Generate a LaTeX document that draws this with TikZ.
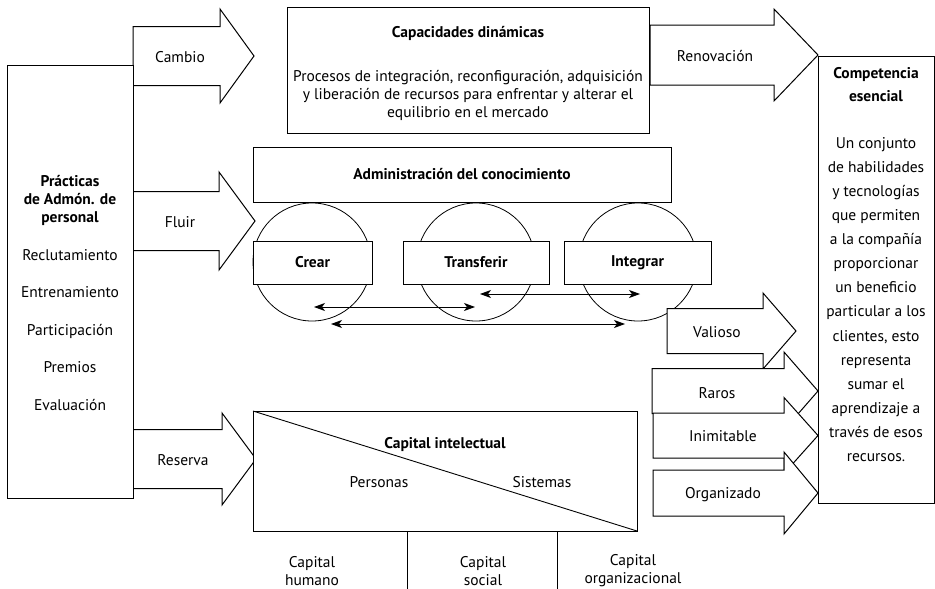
\documentclass[tikz,border=0pt]{standalone}
\usepackage{fontspec}
\setmainfont{PT Sans}
\usetikzlibrary{arrows.meta}
\newcommand\blkarrow[6]{\draw[blk] (#1,{#4-#5}) -- (#2,{#4-#5}) -- (#2,{#4-#6}) -- (#3,#4) -- (#2,{#4+#6}) -- (#2,{#4+#5}) -- (#1,{#4+#5}) -- cycle;}
\begin{document}
\begin{tikzpicture}[x=1pt,y=-1pt,
  box/.style={draw, line width=1pt, fill=white, outer sep=0pt, inner sep=0pt},
  blk/.style={draw, line width=1pt, fill=white, line join=miter},
  lbl/.style={font=\fontsize{15.5}{18}\selectfont, inner sep=0pt, align=center},
  bl/.style={font=\fontsize{15.5}{18}\selectfont\bfseries, inner sep=0pt, align=center},
  ring/.style={draw, circle, line width=0.8pt, minimum size=118pt, inner sep=0pt},
  dbl/.style={line width=0.8pt, {Stealth[length=11pt,width=8pt,inset=3pt]}-{Stealth[length=11pt,width=8pt,inset=3pt]}},
  thinline/.style={line width=0.9pt},
]
\useasboundingbox (0,0) rectangle (935,589);

% block arrows from left box
\blkarrow{133}{220}{254}{56}{29.5}{47}
\blkarrow{133}{219}{255}{221}{29.5}{49}
\blkarrow{133}{222}{256}{459}{29.5}{46}
\node[lbl] (tcambio) at (180,57) {Cambio};
\node[lbl] (tfluir) at (180,222) {Fluir};
\node[lbl] (treserva) at (183,460) {Reserva};

% left box
\node[box, minimum width=126pt, minimum height=433pt] (left) at (70,281.5) {};
\node[bl] (ptitle) at (70,200) {Prácticas\\de Admón. de\\personal};
\node[lbl, font=\fontsize{15.5}{37.5}\selectfont] (plist) at (70,330) {Reclutamiento\\Entrenamiento\\Participación\\Premios\\Evaluación};

% capacidades dinamicas
\node[box, minimum width=362pt, minimum height=126pt] (capd) at (468,70) {};
\node[bl] (capdt) at (468,33) {Capacidades dinámicas};
\node[lbl] (capdb) at (468,95) {Procesos de integración, reconfiguración, adquisición\\y liberación de recursos para enfrentar y alterar el\\equilibrio en el mercado};

% renovacion
\blkarrow{650}{774}{818}{55}{30}{46}
\node[lbl] (trenov) at (715,56) {Renovación};

% competencia esencial
\node[box, minimum width=116pt, minimum height=447pt] (comp) at (876,279.5) {};
\node[bl, font=\fontsize{15.5}{23}\selectfont\bfseries] (compt) at (876,84.5) {Competencia\\esencial};
\node[lbl, font=\fontsize{15.5}{24.1}\selectfont] (compb) at (876,299.5) {Un conjunto\\de habilidades\\y tecnologías\\que permiten\\a la compañía\\proporcionar\\un beneficio\\particular a los\\clientes, esto\\representa\\sumar el\\aprendizaje a\\través de esos\\recursos.};

% administracion del conocimiento
\node[box, bl, minimum width=418pt, minimum height=55pt] (adm) at (462,174.5) {Administración del conocimiento};
\node[ring] (c1) at (312,262) {};
\node[ring] (c2) at (476,262) {};
\node[ring] (c3) at (638,262) {};
\node[box, bl, minimum width=119pt, minimum height=43pt] (crear) at (312.5,262.5) {Crear};
\node[box, bl, minimum width=146pt, minimum height=43pt] (transf) at (476,262.5) {Transferir};
\node[box, bl, minimum width=147pt, minimum height=43pt] (integ) at (637.5,262.5) {Integrar};

\coordinate (a1s) at (314,307); \coordinate (a1e) at (475,307);
\coordinate (a2s) at (480,294); \coordinate (a2e) at (640,294);
\coordinate (a3s) at (331,324); \coordinate (a3e) at (625,324);
\draw[dbl] (a1s) -- (a1e);
\draw[dbl] (a2s) -- (a2e);
\draw[dbl] (a3s) -- (a3e);

% VRIO arrows
\blkarrow{667}{763}{796}{331}{22.5}{38}
\node[lbl] (tval) at (717,332) {Valioso};
\blkarrow{652}{784}{818}{391}{22.5}{39}
\node[lbl] (trar) at (717,393) {Raros};
\blkarrow{653}{784}{818}{435.5}{22.5}{38}
\node[lbl] (tini) at (723,436) {Inimitable};
\blkarrow{653}{784}{818}{493}{23}{41}
\node[lbl] (torg) at (723,495) {Organizado};

% capital intelectual
\node[box, minimum width=384pt, minimum height=120pt] (cap) at (445,471) {};
\draw[thinline] (cap.north west) -- (cap.south east);
\node[bl] (capt) at (445,445) {Capital intelectual};
\node[lbl] (pers) at (379,482) {Personas};
\node[lbl] (sist) at (542,482) {Sistemas};

\coordinate (v1) at (407,589);
\coordinate (v2) at (557,589);
\draw[thinline] (v1 |- cap.south) -- (v1);
\draw[thinline] (v2 |- cap.south) -- (v2);
\node[lbl] (chum) at (312,571) {Capital\\humano};
\node[lbl] (csoc) at (483,571) {Capital\\social};
\node[lbl] (corg) at (633,571) {Capital\\organizacional};
\end{tikzpicture}
\end{document}
